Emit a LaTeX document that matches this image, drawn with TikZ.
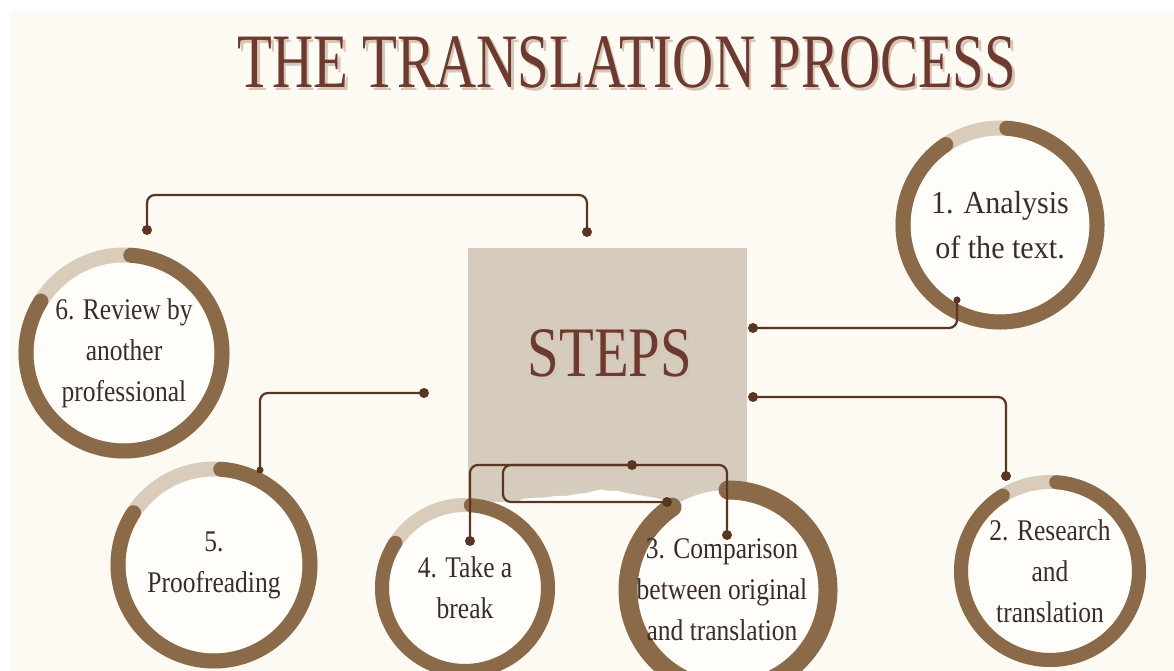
\documentclass[tikz,border=0pt]{standalone}
\usepackage{fontspec}
\setmainfont{Liberation Serif}
\newfontfamily\titlefont[FakeStretch=0.74]{Liberation Serif}
\newfontfamily\stepsfont[FakeStretch=0.8]{Liberation Serif}
\newfontfamily\ringfont[FakeStretch=0.85]{Liberation Serif}
\newfontfamily\ringwidefont[FakeStretch=0.94]{Liberation Serif}
\definecolor{bgcream}{HTML}{FDFAF3}
\definecolor{ringfill}{HTML}{FFFDF9}
\definecolor{ringbrown}{HTML}{8A6A48}
\definecolor{ringbeige}{HTML}{D9CCBA}
\definecolor{boxbeige}{HTML}{D6CCBD}
\definecolor{linkbrown}{HTML}{593622}
\definecolor{titlered}{HTML}{6E3A2F}
\definecolor{shadowtan}{HTML}{D6C6B6}
\definecolor{ringtext}{HTML}{3A2D29}
\tikzset{
  steptext/.style={align=center, text=ringtext, inner sep=0pt,
    font=\ringfont\fontsize{30}{41}\selectfont},
  ringdark/.style={draw=ringbrown, line cap=round},
  ringlight/.style={draw=ringbeige},
  link/.style={draw=linkbrown, line width=2.2pt, rounded corners=8pt},
  dot/.style={fill=linkbrown},
}
\newcommand{\steptext}{\node[steptext]}

\begin{document}
\begin{tikzpicture}[x=1pt, y=1pt]
\useasboundingbox (0,0) rectangle (1174,671);
\fill[white] (0,0) rectangle (1174,671);
\fill[bgcream] (10,0) rectangle (1174,659);

% title
\node[anchor=base, text=shadowtan, font=\titlefont\fontsize{77}{77}\selectfont]
  at (629.5,580.5) {THE TRANSLATION PROCESS};
\node[anchor=base, text=titlered, font=\titlefont\fontsize{77}{77}\selectfont]
  (title) at (627,583) {THE TRANSLATION PROCESS};

% centre box
\node[rectangle, fill=boxbeige, inner sep=0pt, minimum width=279pt,
  minimum height=254pt] (steps) at (607.5,296) {};
\fill[white] (516,168) -- (522,172) -- (532,173) -- (545,173.5) -- (556,175)
  -- (566,175) -- (577,177) -- (586,178) -- (594,180) -- (602,181.5)
  -- (608,180) -- (616,180.5) -- (626,178) -- (638,176) -- (650,174)
  -- (660,172) -- (668,168) -- cycle;
\node[anchor=base, text=shadowtan, font=\stepsfont\fontsize{71}{71}\selectfont]
  at (612.5,291.5) {STEPS};
\node[anchor=base, text=titlered, font=\stepsfont\fontsize{71}{71}\selectfont]
  (stepslbl) at (610,294) {STEPS};

% rings
\foreach \x/\y/\rad/\w/\a in {1000/446/97/15/124, 1050/100/89/14/122,
    465/83/83/14/147, 214/106/96/15/147, 124/318/98/15/148}{
  \fill[ringfill] (\x,\y) circle[radius=\rad];
  \draw[ringlight, line width=\w pt] (\x,\y) circle[radius=\rad];
  \draw[ringdark, line width=\w pt] (\x,\y) ++(\a:\rad)
    arc[start angle=\a, end angle=446, radius=\rad];
}
\fill[ringfill] (728,81) circle[radius=100];
\draw[ringdark, line width=19pt] (728,81) ++(124:100)
  arc[start angle=124, end angle=450, radius=100];

% steps
\steptext (r1) at (1000,446) [font=\ringwidefont\fontsize{32}{45}\selectfont]
  {1. Analysis\\of the text.};
\steptext (r2) at (1050,100) {2. Research\\and\\translation};
\steptext (r3) at (722,81) {3. Comparison\\between original\\and translation};
\steptext (r4) at (465,83) {4. Take a\\break};
\steptext (r5) at (214,106) {5.\\Proofreading};
\steptext (r6) at (124,318) {6. Review by\\another\\professional};

% connectors
\coordinate (d6) at (147,441);
\coordinate (dS1) at (587,439);
\coordinate (dS2) at (424,278);
\coordinate (d5) at (260,201);
\coordinate (dS3) at (753,343);
\coordinate (d1) at (957,371);
\coordinate (dS4) at (753,274);
\coordinate (d2) at (1006,195);
\coordinate (dS5) at (632,206);
\coordinate (d4) at (470,130);
\coordinate (d3t) at (727,136);
\coordinate (d3c) at (667,169);

\path[link] (d6) -- ++(0,35) -| (dS1);
\path[link] (dS2) -| (d5);
\path[link] (dS3) -| (d1);
\path[link] (dS4) -| (d2);
\path[link] (d4) |- (dS5) -| (d3t);
\path[link] (d3c) -- ++(-164,0) |- (dS5);

\foreach \p in {d6,dS1,dS2,dS3,dS4,d2,dS5,d4,d3t,d3c}
  \fill[dot] (\p) circle[radius=5];
\foreach \p in {d5,d1}
  \fill[dot] (\p) circle[radius=3.5];
\end{tikzpicture}
\end{document}
